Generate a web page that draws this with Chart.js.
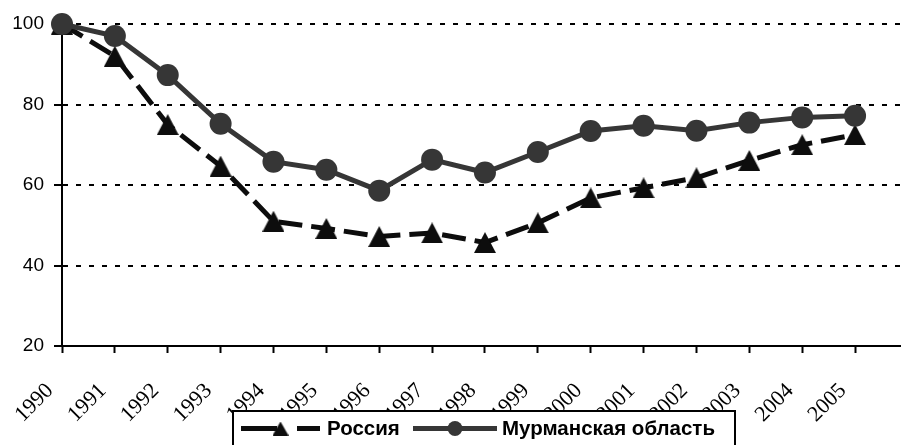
<!DOCTYPE html>
<html>
<head>
<meta charset="utf-8">
<script src="https://cdn.jsdelivr.net/npm/chart.js@4/dist/chart.umd.min.js"></script>
<style>
  html, body { margin: 0; padding: 0; background: #ffffff; overflow: hidden; }
  #wrap { width: 901px; height: 445px; position: relative; }
</style>
</head>
<body>
<div id="wrap"><canvas id="c" width="901" height="445"></canvas></div>
<script>
// Index values, 1990 = 100
const years = [1990, 1991, 1992, 1993, 1994, 1995, 1996, 1997, 1998, 1999, 2000, 2001, 2002, 2003, 2004, 2005];
const russia = [100, 92, 75, 64.7, 51, 49.2, 47.2, 48.1, 45.7, 50.6, 56.8, 59.3, 61.8, 66.1, 70, 72.5];
const murmansk = [100, 97, 87.3, 75.2, 65.8, 63.8, 58.6, 66.3, 63.1, 68.2, 73.4, 74.7, 73.5, 75.5, 76.8, 77.2];
const yTicks = [20, 40, 60, 80, 100];
const seriesNames = ['Россия', 'Мурманская область'];

const RUS_COLOR = '#0d0d0d';
const MUR_COLOR = '#363636';

// Triangle marker whose bounding box is centred on the data point
function makeTriangle(w, h, color) {
  const cv = document.createElement('canvas');
  cv.width = w; cv.height = h;
  const g = cv.getContext('2d');
  g.fillStyle = color;
  g.beginPath();
  g.moveTo(w / 2, 0);
  g.lineTo(w, h);
  g.lineTo(0, h);
  g.closePath();
  g.fill();
  return cv;
}
const triMarker = makeTriangle(22, 21, RUS_COLOR);

// Boxed legend drawn over the lower part of the chart
const boxLegend = {
  id: 'boxLegend',
  afterDraw(chart) {
    const ctx = chart.ctx;
    const left = 233, top = 411, right = 735, bottom = 452;
    const cy = 428.5;
    ctx.save();
    ctx.fillStyle = '#ffffff';
    ctx.fillRect(left, top, right - left, bottom - top);
    ctx.lineWidth = 2;
    ctx.strokeStyle = '#000000';
    ctx.strokeRect(left, top, right - left, bottom - top);

    // Россия sample: dashed line with triangle
    ctx.strokeStyle = RUS_COLOR;
    ctx.lineWidth = 5;
    ctx.setLineDash([36, 20]);
    ctx.beginPath();
    ctx.moveTo(241, cy);
    ctx.lineTo(320, cy);
    ctx.stroke();
    ctx.setLineDash([]);
    ctx.drawImage(makeTriangle(16, 14, RUS_COLOR), 280.5 - 8, cy - 7);

    // Мурманская область sample: solid line with circle
    ctx.strokeStyle = MUR_COLOR;
    ctx.beginPath();
    ctx.moveTo(413, cy);
    ctx.lineTo(497, cy);
    ctx.stroke();
    ctx.fillStyle = MUR_COLOR;
    ctx.beginPath();
    ctx.arc(455, cy, 7.5, 0, Math.PI * 2);
    ctx.fill();

    ctx.fillStyle = '#000000';
    ctx.font = 'bold 20.5px "Liberation Sans", Arial, sans-serif';
    ctx.textBaseline = 'middle';
    ctx.textAlign = 'left';
    ctx.fillText(seriesNames[0], 327, cy + 1);
    ctx.fillText(seriesNames[1], 502, cy + 1);
    ctx.restore();
  }
};

new Chart(document.getElementById('c'), {
  type: 'line',
  data: {
    datasets: [
      {
        label: seriesNames[0],
        data: years.map((y, i) => ({ x: y, y: russia[i] })),
        borderColor: RUS_COLOR,
        backgroundColor: RUS_COLOR,
        borderWidth: 5,
        borderDash: [24, 9],
        pointStyle: triMarker,
        pointRadius: 11,
        tension: 0,
        clip: false,
        order: 2
      },
      {
        label: seriesNames[1],
        data: years.map((y, i) => ({ x: y, y: murmansk[i] })),
        borderColor: MUR_COLOR,
        backgroundColor: MUR_COLOR,
        borderWidth: 5,
        pointStyle: 'circle',
        pointRadius: 11,
        pointBorderWidth: 0,
        pointBackgroundColor: MUR_COLOR,
        tension: 0,
        clip: false,
        order: 1
      }
    ]
  },
  options: {
    responsive: false,
    animation: false,
    devicePixelRatio: 1,
    layout: { autoPadding: false, padding: { top: 24, right: 1, left: 0, bottom: 0 } },
    plugins: { legend: { display: false }, tooltip: { enabled: false } },
    scales: {
      x: {
        type: 'linear',
        min: 1990,
        max: 2005.85,
        afterBuildTicks: s => { s.ticks = years.map(v => ({ value: v })); },
        afterFit: s => { s.height = 99; s.paddingLeft = 0; s.paddingRight = 0; },
        ticks: {
          autoSkip: false,
          minRotation: 45,
          maxRotation: 45,
          labelOffset: -12,
          padding: 25,
          color: '#000000',
          font: { family: '"Liberation Serif", "Times New Roman", serif', size: 22 },
          callback: v => String(v)
        },
        grid: { drawOnChartArea: false, drawTicks: true, tickLength: 7, tickColor: '#000000', tickWidth: 2 },
        border: { color: '#000000', width: 2 }
      },
      y: {
        min: 20,
        max: 100,
        afterBuildTicks: s => { s.ticks = yTicks.map(v => ({ value: v })); },
        afterFit: s => { s.width = 62; },
        ticks: {
          padding: 10,
          color: '#000000',
          font: { family: '"Liberation Sans", Arial, sans-serif', size: 19 }
        },
        grid: {
          color: c => (c.tick && c.tick.value === 20) ? 'rgba(0,0,0,0)' : '#000000',
          lineWidth: 2,
          tickBorderDash: [],
          tickLength: 8,
          tickColor: '#000000',
          tickWidth: 2
        },
        border: { color: '#000000', width: 2, dash: [5, 8] }
      }
    }
  },
  plugins: [boxLegend]
});
</script>
</body>
</html>
